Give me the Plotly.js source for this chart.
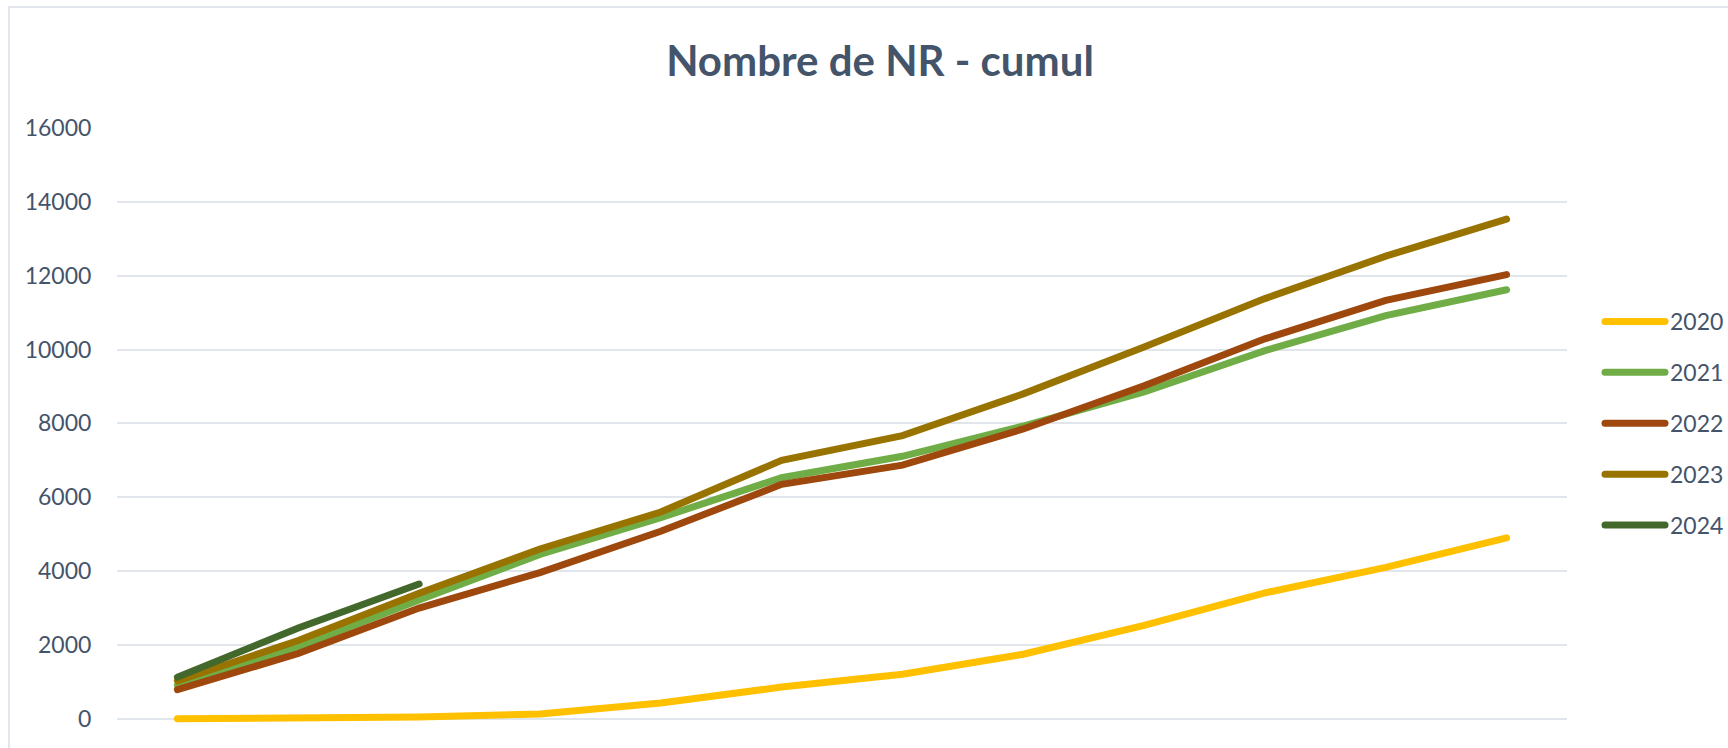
<!DOCTYPE html>
<html>
<head>
<meta charset="utf-8">
<script src="https://cdn.plot.ly/plotly-3.0.1.min.js"></script>
<style>
html,body{margin:0;padding:0;background:#fff;overflow:hidden;}
#chart{width:1728px;height:748px;position:absolute;left:0;top:0;}
#frame{position:absolute;left:8px;top:6px;width:1800px;height:900px;border-left:2px solid #E1E5EC;border-top:2px solid #E1E5EC;pointer-events:none;}
.scatterlayer path.js-line{stroke-linecap:round;}
</style>
</head>
<body>
<div id="chart"></div>
<div id="frame"></div>
<script>
// Categories (months, labels not shown on the reference)
const months = ["janv.", "févr.", "mars", "avr.", "mai", "juin", "juil.", "août", "sept.", "oct.", "nov.", "déc."];
const seriesNames = ["2020", "2021", "2022", "2023", "2024"];
const v2020 = [0, 30, 50, 130, 430, 860, 1210, 1750, 2530, 3410, 4100, 4900];
const v2021 = [910, 1950, 3220, 4450, 5450, 6530, 7110, 7930, 8850, 9970, 10920, 11620];
const v2022 = [790, 1770, 3000, 3960, 5080, 6350, 6870, 7850, 9020, 10290, 11330, 12030];
const v2023 = [1030, 2120, 3400, 4600, 5600, 7000, 7670, 8800, 10070, 11380, 12530, 13530];
const v2024 = [1130, 2460, 3650];
const yTicks = [0, 2000, 4000, 6000, 8000, 10000, 12000, 14000, 16000];
const colors = ["#FFC000", "#70AD47", "#9E480E", "#997300", "#43682B"];

const values = [v2020, v2021, v2022, v2023, v2024];
const FONT = 'Lato, "Open Sans", sans-serif';
const TXT = '#44546A';

const traces = seriesNames.map((name, i) => ({
  type: 'scatter',
  mode: 'lines',
  name: name,
  legendgroup: name,
  x: months.slice(0, values[i].length),
  y: values[i],
  line: {color: colors[i], width: 7},
  hoverinfo: 'skip'
}));

const layout = {
  width: 1728,
  height: 748,
  paper_bgcolor: 'rgba(0,0,0,0)',
  plot_bgcolor: 'rgba(0,0,0,0)',
  margin: {l: 117, r: 161, t: 128, b: 7},
  title: {
    text: '<b>Nombre de NR - cumul</b>',
    font: {family: FONT, size: 42, color: TXT},
    x: 880 / 1728, xanchor: 'center', xref: 'container',
    y: 1 - 61 / 748, yanchor: 'middle', yref: 'container'
  },
  xaxis: {
    type: 'category',
    categoryorder: 'array',
    categoryarray: months,
    range: [-0.5, 11.5],
    showticklabels: false,
    showgrid: false,
    zeroline: false,
    showline: false,
    ticks: '',
    fixedrange: true
  },
  yaxis: {
    range: [-600, 16000],
    tickvals: yTicks,
    tickformat: 'd',
    showgrid: true,
    gridcolor: '#E1E5EC',
    gridwidth: 2,
    zeroline: false,
    showline: false,
    ticks: 'outside',
    ticklen: 20,
    tickcolor: 'rgba(0,0,0,0)',
    tickfont: {family: FONT, size: 23, color: TXT},
    fixedrange: true
  },
  showlegend: true,
  legend: {
    xref: 'container', yref: 'container',
    x: 1600 / 1728, xanchor: 'left',
    y: 1 - 300 / 748, yanchor: 'top',
    font: {family: FONT, size: 23, color: TXT},
    itemwidth: 60,
    tracegroupgap: 18,
    bgcolor: 'rgba(0,0,0,0)',
    borderwidth: 0
  },
  hovermode: false
};

Plotly.newPlot('chart', traces, layout, {staticPlot: true, displayModeBar: false}).then(() => {
  document.querySelectorAll('.legend .traces path.js-line').forEach(p => {
    p.setAttribute('d', 'M5,0h60');
    p.style.strokeWidth = '7px';
    p.style.strokeLinecap = 'round';
  });
});
</script>
</body>
</html>
